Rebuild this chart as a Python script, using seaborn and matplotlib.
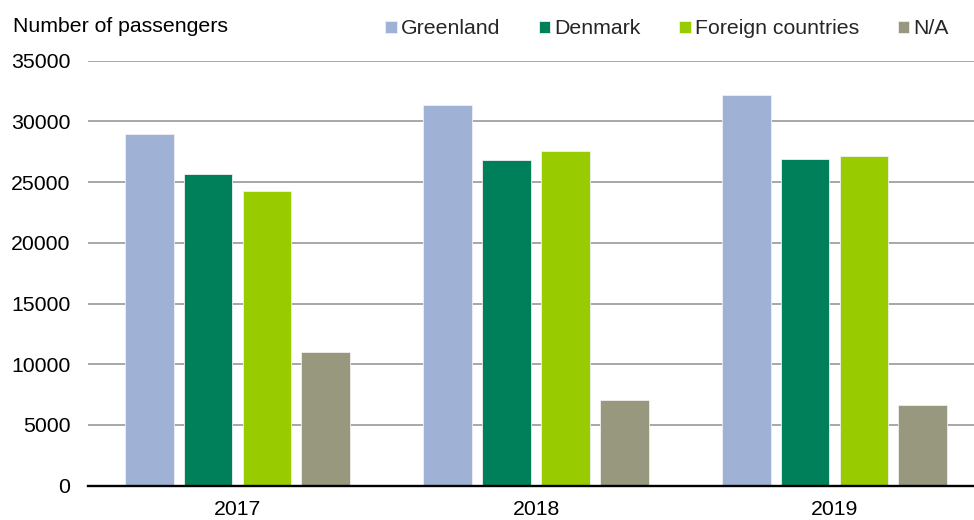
import matplotlib
matplotlib.use("Agg")
import matplotlib.pyplot as plt
import seaborn as sns
import pandas as pd

years = ["2017", "2018", "2019"]
series = ["Greenland", "Denmark", "Foreign countries", "N/A"]
greenland = [29000, 31350, 32150]
denmark = [25700, 26800, 26900]
foreign = [24250, 27550, 27130]
na_vals = [11000, 7030, 6650]
colors = ["#9FB1D4", "#00805A", "#99CC00", "#97987E"]
y_ticks = [0, 5000, 10000, 15000, 20000, 25000, 30000, 35000]
y_label = "Number of passengers"

rows = []
for name, vals in zip(series, [greenland, denmark, foreign, na_vals]):
    for yr, v in zip(years, vals):
        rows.append({"year": yr, "series": name, "value": v})
df = pd.DataFrame(rows)

sns.set_theme(style="white")
plt.rcParams["font.family"] = ["Liberation Sans", "DejaVu Sans"]

FS = 15.3

fig = plt.figure(figsize=(9.74, 5.2), dpi=100)
ax = fig.add_axes([88.25 / 974, 1 - 485.7 / 520, 895.5 / 974, (485.7 - 60.7) / 520])

sns.barplot(data=df, x="year", y="value", hue="series", hue_order=series,
            order=years, palette=colors, width=0.79, gap=0.17,
            edgecolor="#F0F0F0", linewidth=0.6, saturation=1, ax=ax,
            legend=True, errorbar=None)

ax.set_ylim(0, 35000)
ax.set_yticks(y_ticks)
ax.set_yticklabels([str(t) for t in y_ticks])
ax.set_xlim(-0.5, 2.5)
ax.set_axisbelow(True)
ax.yaxis.grid(True, color="#A0A0A0", linewidth=1.3)
ax.xaxis.grid(False)
for s in ["top", "right", "left"]:
    ax.spines[s].set_visible(False)
ax.spines["bottom"].set_color("black")
ax.spines["bottom"].set_linewidth(1.7)
ax.spines["bottom"].set_zorder(5)
ax.set_xlabel("")
ax.set_ylabel("")
ax.tick_params(axis="y", length=0, pad=13, labelsize=FS, labelcolor="black")
ax.tick_params(axis="x", length=0, pad=10, labelsize=FS, labelcolor="black")

fig.text(13 / 974, 1 - 32 / 520, y_label, fontsize=FS, color="black",
         ha="left", va="baseline")

handles, labels = ax.get_legend_handles_labels()
ax.legend(handles, labels, loc="center left",
          bbox_to_anchor=(385 / 974, 1 - 29 / 520), bbox_transform=fig.transFigure,
          ncol=4, frameon=False, fontsize=FS, handlelength=0.55, handleheight=0.55,
          handletextpad=0.2, columnspacing=1.8, borderpad=0, borderaxespad=0)

fig.savefig("out.png", dpi=100)
